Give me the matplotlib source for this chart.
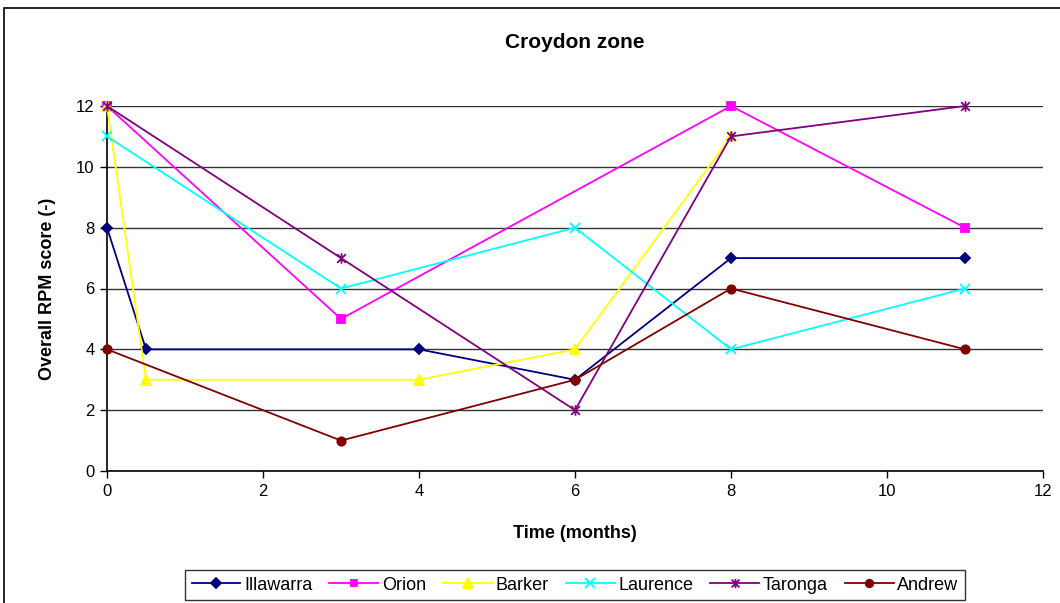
import matplotlib
matplotlib.use("Agg")
import matplotlib.pyplot as plt
from matplotlib.path import Path
from matplotlib.patches import Rectangle

plt.rcParams['font.family'] = ['Liberation Sans', 'DejaVu Sans']

# Scores per site over time (months)
illawarra_x = [0, 0.5, 4, 6, 8, 11]
illawarra_y = [8, 4, 4, 3, 7, 7]
orion_x = [0, 3, 8, 11]
orion_y = [12, 5, 12, 8]
barker_x = [0, 0.5, 4, 6, 8]
barker_y = [12, 3, 3, 4, 11]
laurence_x = [0, 3, 6, 8, 11]
laurence_y = [11, 6, 8, 4, 6]
taronga_x = [0, 3, 6, 8, 11]
taronga_y = [12, 7, 2, 11, 12]
andrew_x = [0, 3, 6, 8, 11]
andrew_y = [4, 1, 3, 6, 4]

x_ticks = [0, 2, 4, 6, 8, 10, 12]
y_ticks = [0, 2, 4, 6, 8, 10, 12]

# Asterisk marker: an "x" with a vertical bar through it
star_path = Path(
    [(-1, -1), (1, 1), (-1, 1), (1, -1), (0, -1.2), (0, 1.2)],
    [Path.MOVETO, Path.LINETO, Path.MOVETO, Path.LINETO, Path.MOVETO, Path.LINETO],
)

fig = plt.figure(figsize=(10.6, 6.03), dpi=100)
ax = fig.add_axes([107 / 1060, 1 - 471 / 603, (1043 - 107) / 1060, (471 - 106) / 603])

series = [
    ("Illawarra", illawarra_x, illawarra_y, "#000080", "D", 5.5),
    ("Orion", orion_x, orion_y, "#FF00FF", "s", 5.5),
    ("Barker", barker_x, barker_y, "#FFFF00", "^", 7.5),
    ("Laurence", laurence_x, laurence_y, "#00FFFF", "x", 7.5),
    ("Taronga", taronga_x, taronga_y, "#800080", star_path, 7.5),
    ("Andrew", andrew_x, andrew_y, "#800000", "o", 6),
]

for name, xs, ys, col, mk, ms in series:
    ax.plot(xs, ys, color=col, lw=1.3, marker=mk, markersize=ms,
            markerfacecolor=col, markeredgecolor=col, markeredgewidth=1.3,
            label=name, clip_on=False, zorder=3)

ax.set_xlim(0, 12)
ax.set_ylim(0, 12)
ax.set_xticks(x_ticks)
ax.set_yticks(y_ticks)
ax.yaxis.grid(True, color="#333333", lw=1.0)
ax.set_axisbelow(True)
for s in ("top", "right"):
    ax.spines[s].set_visible(False)
for s in ("left", "bottom"):
    ax.spines[s].set_linewidth(1.2)
    ax.spines[s].set_color("black")
ax.tick_params(direction="out", length=5, width=1, labelsize=12, pad=4)

ax.set_xlabel("Time (months)", fontsize=13, fontweight="bold", labelpad=19)
ax.set_ylabel("Overall RPM score (-)", fontsize=13, fontweight="bold", labelpad=14)
fig.text(0.5425, 1 - 43 / 603, "Croydon zone", ha="center", va="center",
         fontsize=15, fontweight="bold")

leg = fig.legend(loc="center", bbox_to_anchor=(575 / 1060, 1 - 585 / 603), ncol=6,
                 frameon=True, fancybox=False, edgecolor="black", fontsize=13,
                 handlelength=2.7, handletextpad=0.2, columnspacing=0.95,
                 borderpad=0.35, markerscale=0.9)
leg.get_frame().set_linewidth(1.0)

# Outer chart border
fig.patches.append(Rectangle((4 / 1060, -0.1), 1.2, 1 - 8 / 603 + 0.1,
                             transform=fig.transFigure, fill=False,
                             edgecolor="black", lw=1.2))

fig.savefig("out.png", dpi=100)
